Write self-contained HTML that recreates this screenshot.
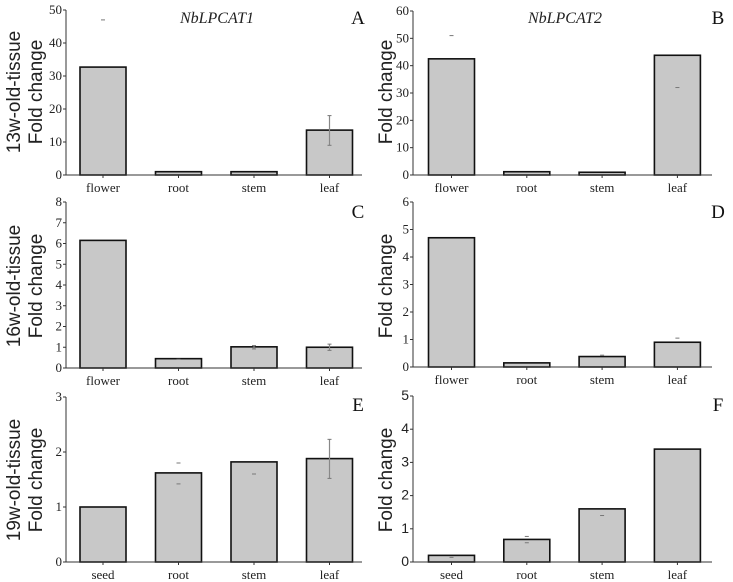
<!DOCTYPE html>
<html><head><meta charset="utf-8"><style>
html,body{margin:0;padding:0;background:#fff;}
svg{display:block;}
.tk{font-family:"Liberation Serif",serif;font-size:13px;fill:#222;}
.tks{font-family:"Liberation Sans",sans-serif;font-size:14px;fill:#222;}
.yt{font-family:"Liberation Sans",sans-serif;font-size:19px;fill:#222;}
.pl{font-family:"Liberation Serif",serif;font-size:19px;fill:#111;}
.gt{font-family:"Liberation Serif",serif;font-size:16px;font-style:italic;fill:#222;}
</style></head><body>
<svg id="fig" width="733" height="582" viewBox="0 0 733 582">
<text class="gt" x="217" y="23" text-anchor="middle">NbLPCAT1</text>
<text class="gt" x="565" y="23" text-anchor="middle">NbLPCAT2</text>
<text class="yt" transform="translate(20,92) rotate(-90)" text-anchor="middle">13w-old-tissue</text>
<text class="yt" transform="translate(42,92) rotate(-90)" text-anchor="middle">Fold change</text>
<text class="yt" transform="translate(20,286) rotate(-90)" text-anchor="middle">16w-old-tissue</text>
<text class="yt" transform="translate(42,286) rotate(-90)" text-anchor="middle">Fold change</text>
<text class="yt" transform="translate(20,480) rotate(-90)" text-anchor="middle">19w-old-tissue</text>
<text class="yt" transform="translate(42,480) rotate(-90)" text-anchor="middle">Fold change</text>
<text class="yt" transform="translate(392,92) rotate(-90)" text-anchor="middle">Fold change</text>
<text class="yt" transform="translate(392,286) rotate(-90)" text-anchor="middle">Fold change</text>
<text class="yt" transform="translate(392,480) rotate(-90)" text-anchor="middle">Fold change</text>
</svg>
<script>
const catsTop = ["flower","root","stem","leaf"];
const catsBottom = ["seed","root","stem","leaf"];
const valsA = [32.7, 1.0, 1.0, 13.6];
const errA = [[null,47],[null,null],[null,null],[9,18]];
const lineA = [false,false,false,true];
const valsB = [42.5, 1.2, 1.0, 43.8];
const errB = [[null,51],[null,null],[null,null],[32,null]];
const lineB = [false,false,false,false];
const valsC = [6.15, 0.45, 1.02, 1.0];
const errC = [[null,null],[0.42,null],[0.92,1.08],[0.85,1.15]];
const lineC = [false,false,true,true];
const valsD = [4.7, 0.15, 0.38, 0.9];
const errD = [[null,null],[null,null],[null,0.43],[null,1.05]];
const lineD = [false,false,false,false];
const valsE = [1.0, 1.62, 1.82, 1.88];
const errE = [[null,null],[1.42,1.8],[1.6,null],[1.52,2.23]];
const lineE = [false,false,false,true];
const valsF = [0.2, 0.68, 1.6, 3.4];
const errF = [[0.14,null],[0.58,0.77],[1.4,null],[null,null]];
const lineF = [false,false,false,false];
const ticksA=[0,10,20,30,40,50], ticksB=[0,10,20,30,40,50,60], ticksC=[0,1,2,3,4,5,6,7,8];
const ticksD=[0,1,2,3,4,5,6], ticksE=[0,1,2,3], ticksF=[0,1,2,3,4,5];

const NS="http://www.w3.org/2000/svg";
const svg=document.getElementById('fig');
function mk(tag,attrs,parent){const e=document.createElementNS(NS,tag);for(const k in attrs)e.setAttribute(k,attrs[k]);(parent||svg).appendChild(e);return e;}

function panel(id,cfg,cats,vals,errs,lines,ticks){
  const g=mk('g',{});
  
  
  const ymax=ticks[ticks.length-1];
  const y=v=>cfg.y0-(v/ymax)*(cfg.y0-cfg.yTop);
  const xc=i=>cfg.c0+i*cfg.band;
  vals.forEach((v,i)=>{
    const r=mk('rect',{x:xc(i)-23,y:y(v),width:46,height:cfg.y0-y(v),fill:'#c8c8c8',stroke:'#111','stroke-width':1.6},g);
    
    
    const [lo,hi]=errs[i];
    if(lines[i]&&lo!=null&&hi!=null){
      const l=mk('line',{x1:xc(i),x2:xc(i),y1:y(lo),y2:y(hi),stroke:'#888','stroke-width':1.2},g);
      
      
    }
    [lo,hi].forEach(e=>{ if(e!=null){
      const c=mk('line',{x1:xc(i)-2,x2:xc(i)+2,y1:y(e),y2:y(e),stroke:'#777','stroke-width':1},g);
      
      
    }});
    const t=mk('text',{x:xc(i),y:cfg.y0+17,'text-anchor':'middle',class:'tk'},g);
    t.textContent=cats[i];
    
    
    mk('line',{x1:xc(i),x2:xc(i),y1:cfg.y0,y2:cfg.y0+3,stroke:'#333','stroke-width':1},g);
  });
  const ya=mk('line',{x1:cfg.ax,x2:cfg.ax,y1:cfg.y0,y2:cfg.yTop,stroke:'#333','stroke-width':1},g);
  
  
  const xa=mk('line',{x1:cfg.ax,x2:cfg.xEnd,y1:cfg.y0,y2:cfg.y0,stroke:'#333','stroke-width':1},g);
  
  
  ticks.forEach(tv=>{
    mk('line',{x1:cfg.ax-3,x2:cfg.ax,y1:y(tv),y2:y(tv),stroke:'#333','stroke-width':1},g);
    const t=mk('text',{x:cfg.ax-4,y:y(tv)+4,'text-anchor':'end',class:cfg.sans?'tks':'tk'},g);
    t.textContent=tv;
    
    
  });
  const p=mk('text',{x:cfg.lx,y:cfg.ly,'text-anchor':'middle',class:'pl'},g);
  p.textContent=id;
  
  
}
const L={ax:66,xEnd:362,c0:103,band:75.5};
const R={ax:413,xEnd:712,c0:451.5,band:75.3};
panel('A',{...L,y0:175,yTop:10,lx:358,ly:24},catsTop,valsA,errA,lineA,ticksA);
panel('B',{...R,y0:175,yTop:11,lx:718,ly:24},catsTop,valsB,errB,lineB,ticksB);
panel('C',{...L,y0:368,yTop:202,lx:358,ly:218},catsTop,valsC,errC,lineC,ticksC);
panel('D',{...R,y0:367,yTop:202,lx:718,ly:218},catsTop,valsD,errD,lineD,ticksD);
panel('E',{...L,y0:562,yTop:397,lx:358,ly:411},catsBottom,valsE,errE,lineE,ticksE);
panel('F',{...R,y0:562,yTop:396,lx:718,ly:411,sans:true},catsBottom,valsF,errF,lineF,ticksF);
</script>
</body></html>
